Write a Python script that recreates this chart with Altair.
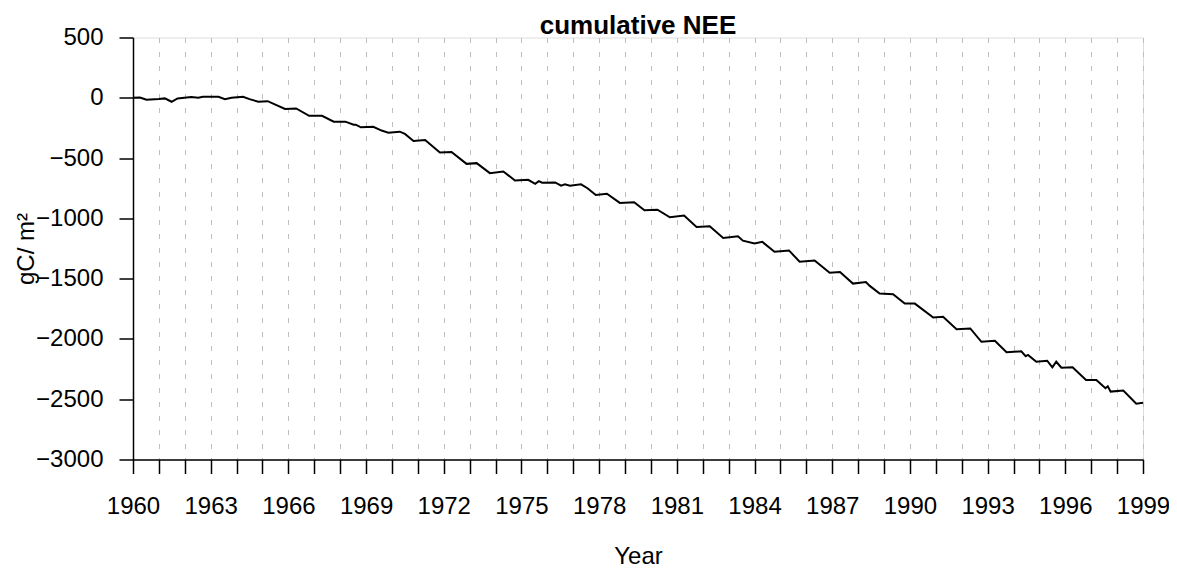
import altair as alt
import pandas as pd

# decimal year and cumulative NEE (gC/m2)
year = [1960.00, 1960.27, 1960.52, 1961.00, 1961.23, 1961.49, 1961.72, 1962.25, 1962.52, 1962.70,
        1963.30, 1963.55, 1963.80, 1964.25, 1964.50, 1964.84, 1965.20, 1965.87, 1966.30, 1966.80,
        1967.30, 1967.75, 1968.20, 1968.52, 1968.60, 1968.80, 1969.28, 1969.60, 1969.86, 1970.30,
        1970.50, 1970.83, 1971.28, 1971.85, 1972.30, 1972.88, 1973.27, 1973.78, 1974.30, 1974.75,
        1975.26, 1975.53, 1975.67, 1975.80, 1976.30, 1976.53, 1976.68, 1976.87, 1977.30, 1977.55,
        1977.87, 1978.30, 1978.80, 1979.35, 1979.75, 1980.25, 1980.73, 1981.28, 1981.76, 1982.27,
        1982.79, 1983.36, 1983.55, 1984.00, 1984.30, 1984.77, 1985.33, 1985.74, 1986.32, 1986.90,
        1987.30, 1987.80, 1988.30, 1988.45, 1988.83, 1989.35, 1989.80, 1990.19, 1990.90, 1991.28,
        1991.80, 1992.33, 1992.76, 1993.28, 1993.73, 1994.30, 1994.47, 1994.56, 1994.88, 1995.30,
        1995.50, 1995.65, 1995.85, 1996.28, 1996.80, 1997.20, 1997.55, 1997.64, 1997.75, 1998.24,
        1998.74, 1999.00]
nee = [0, 2, -16, -11, -5, -33, -5, 6, 0, 8,
       8, -11, 0, 8, -11, -33, -28, -93, -88, -149,
       -149, -198, -198, -223, -223, -245, -240, -272, -289, -281,
       -300, -358, -350, -454, -449, -548, -542, -625, -611, -686,
       -680, -713, -691, -704, -702, -729, -718, -729, -718, -750,
       -806, -796, -872, -867, -933, -928, -991, -977, -1071, -1065,
       -1162, -1148, -1185, -1208, -1195, -1277, -1266, -1360, -1349, -1451,
       -1445, -1541, -1528, -1560, -1624, -1630, -1707, -1707, -1822, -1817,
       -1919, -1913, -2024, -2015, -2111, -2103, -2143, -2133, -2189, -2181,
       -2235, -2189, -2238, -2235, -2340, -2340, -2409, -2393, -2437, -2428,
       -2538, -2530]

year_ticks = list(range(1960, 2000))
y_ticks = [500, 0, -500, -1000, -1500, -2000, -2500, -3000]

df = pd.DataFrame({"year": year, "nee": nee})
FONT = "Liberation Sans"

chart = alt.Chart(df).mark_line(color="black", strokeWidth=2).encode(
    x=alt.X("year:Q",
            scale=alt.Scale(domain=[1960, 1999], nice=False, zero=False),
            axis=alt.Axis(values=year_ticks, format="d",
                          labelExpr="(datum.value - 1960) % 3 == 0 ? datum.label : ''",
                          grid=True, gridDash=[5, 9], gridColor="#bebebe", gridWidth=1,
                          tickSize=14, tickColor="black", tickWidth=1.5,
                          domainColor="black", domainWidth=1.5,
                          labelFontSize=24, labelFont=FONT, labelColor="black",
                          labelPadding=21, labelFlush=False, labelOverlap=False,
                          title="Year", titleFont=FONT, titleFontSize=24,
                          titleFontWeight="normal", titleColor="black",
                          titleX=505, titleY=104, titleAlign="center",
                          titleBaseline="alphabetic")),
    y=alt.Y("nee:Q",
            scale=alt.Scale(domain=[-3000, 500], nice=False, zero=False),
            axis=alt.Axis(values=y_ticks, format="d", grid=False,
                          tickSize=14, tickColor="black", tickWidth=1.5,
                          domainColor="black", domainWidth=1.5,
                          labelFontSize=24, labelFont=FONT, labelColor="black",
                          labelPadding=16, labelFlush=False, labelOverlap=False,
                          title="gC/ m²", titleFont=FONT, titleFontSize=24,
                          titleFontWeight="normal", titleColor="black",
                          titleAngle=-90, titleX=-100, titleY=211,
                          titleAlign="center", titleBaseline="alphabetic")),
).properties(
    width=1010, height=422,
    autosize=alt.AutoSizeParams(type="none"),
    padding={"left": 125, "top": 29.5, "right": 26, "bottom": 109},
    title=alt.TitleParams("cumulative NEE", font=FONT, fontSize=26, fontWeight="bold",
                          color="black", anchor="middle", baseline="alphabetic",
                          offset=0, dy=34),
).configure_view(stroke="black", strokeWidth=1.5).configure(background="white")

chart.save("out.html", embed_options={"renderer": "svg", "actions": False})
